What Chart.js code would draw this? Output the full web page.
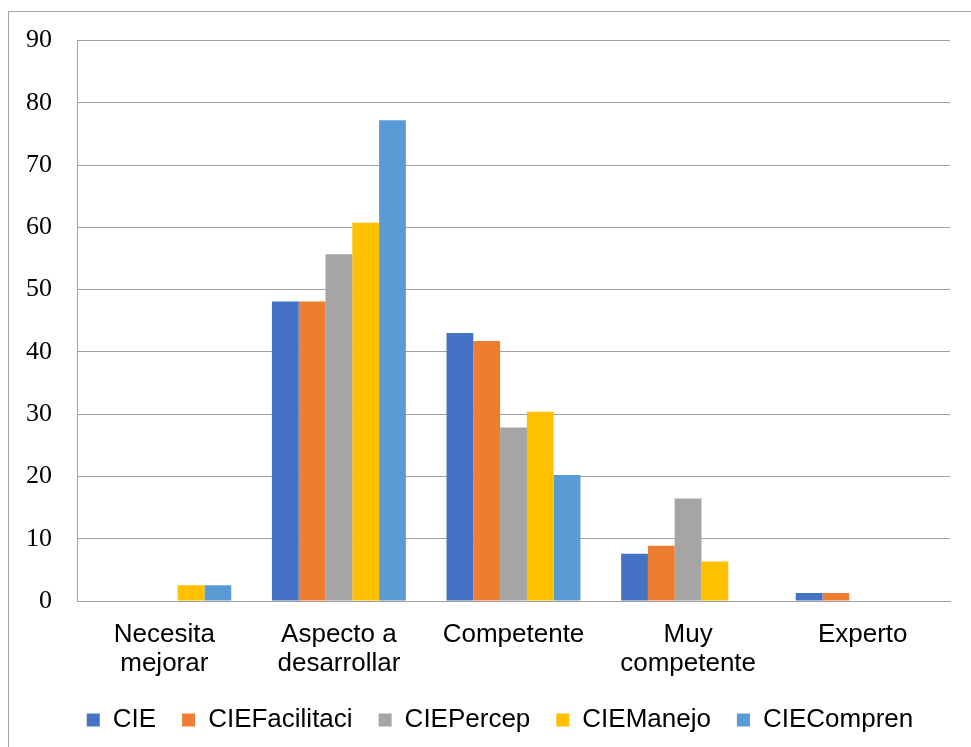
<!DOCTYPE html>
<html>
<head>
<meta charset="utf-8">
<script src="https://cdn.jsdelivr.net/npm/chart.js@4/dist/chart.umd.min.js"></script>
<style>
  html, body { margin: 0; padding: 0; background: #fff; overflow: hidden; }
  #wrap { position: relative; width: 971px; height: 747px; overflow: hidden; }
  #frame { position: absolute; left: 8px; top: 11px; width: 2000px; height: 2000px;
           border: 1px solid #A6A6A6; box-sizing: border-box; }
  canvas { position: absolute; left: 0; top: 0; }
</style>
</head>
<body>
<div id="wrap">
  <div id="frame"></div>
  <canvas id="chart" width="971" height="747"></canvas>
</div>
<script>
// Competence levels (x categories)
const categories = [
  ['Necesita', 'mejorar'],
  ['Aspecto a', 'desarrollar'],
  'Competente',
  ['Muy', 'competente'],
  'Experto'
];

// Percentage of respondents per level, one array per scale
const cie           = [0,    48.10, 43.04, 7.59,  1.27];
const cieFacilitaci = [0,    48.10, 41.77, 8.86,  1.27];
const ciePercep     = [0,    55.70, 27.85, 16.46, 0];
const cieManejo     = [2.53, 60.76, 30.38, 6.33,  0];
const cieCompren    = [2.53, 77.22, 20.25, 0,     0];

const seriesNames = ['CIE', 'CIEFacilitaci', 'CIEPercep', 'CIEManejo', 'CIECompren'];
const seriesColors = ['#4472C4', '#ED7D31', '#A5A5A5', '#FFC000', '#5B9BD5'];
const seriesValues = [cie, cieFacilitaci, ciePercep, cieManejo, cieCompren];

// y axis ticks
const yMin = 0, yMax = 90, yStep = 10;

const gridColor = '#A0A0A0';

// nudge the legend row slightly right and up within its box
const legendNudge = {
  id: 'legendNudge',
  afterLayout(chart) {
    const lg = chart.legend;
    if (!lg) return;
    lg.left += 25; lg.right += 25;
    lg.top -= 4; lg.bottom -= 4;
  }
};

new Chart(document.getElementById('chart'), {
  type: 'bar',
  data: {
    labels: categories,
    datasets: seriesNames.map((name, i) => ({
      label: name,
      data: seriesValues[i],
      backgroundColor: seriesColors[i],
      borderWidth: 0,
      barPercentage: 1.0,
      categoryPercentage: 0.767
    }))
  },
  plugins: [legendNudge],
  options: {
    responsive: false,
    animation: false,
    devicePixelRatio: 1,
    layout: { padding: { left: 0, right: 21, top: 40, bottom: 0 } },
    plugins: {
      tooltip: { enabled: false },
      legend: {
        position: 'bottom',
        labels: {
          boxWidth: 13,
          boxHeight: 13,
          padding: 26,
          color: '#000',
          font: { family: '"Liberation Sans", Arial, sans-serif', size: 26 }
        }
      }
    },
    scales: {
      x: {
        grid: { display: false, drawTicks: false },
        border: { display: true, color: gridColor, width: 1 },
        ticks: {
          color: '#000',
          padding: 20,
          maxRotation: 0,
          autoSkip: false,
          font: { family: '"Liberation Sans", Arial, sans-serif', size: 26, lineHeight: 1.1 }
        },
        afterFit(scale) { scale.height = 84; }
      },
      y: {
        min: yMin,
        max: yMax,
        grid: { color: gridColor, lineWidth: 1, drawTicks: false },
        border: { display: true, color: gridColor, width: 1 },
        ticks: {
          stepSize: yStep,
          color: '#000',
          padding: 25,
          font: { family: '"Liberation Serif", "Times New Roman", serif', size: 26 }
        },
        afterFit(scale) { scale.width = 77; }
      }
    }
  }
});
</script>
</body>
</html>
